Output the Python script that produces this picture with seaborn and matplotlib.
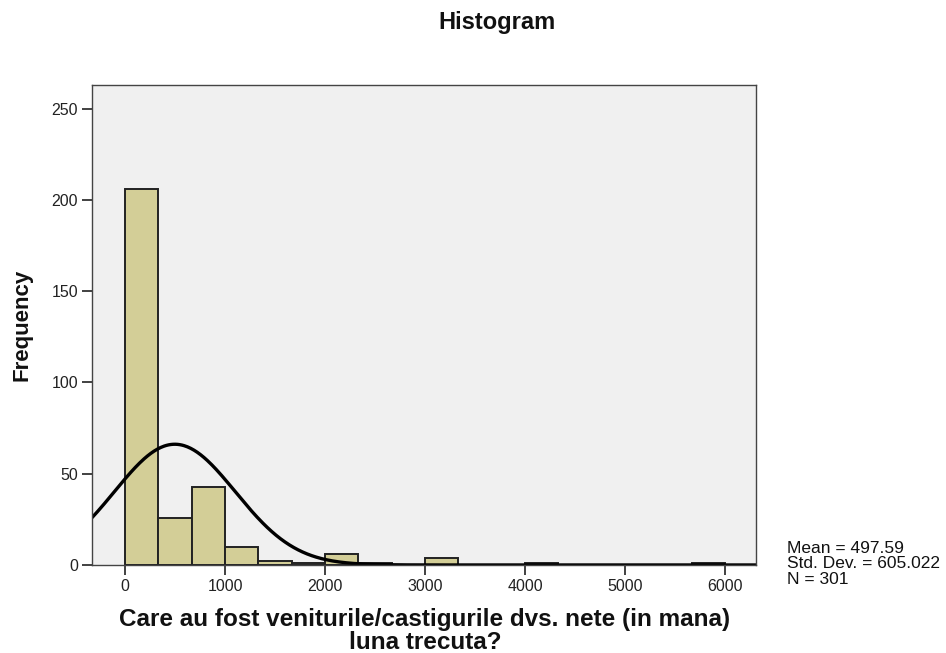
import numpy as np
import pandas as pd
import matplotlib
matplotlib.use("Agg")
import matplotlib.pyplot as plt
import seaborn as sns

# Income frequency table (bin width 333.33, from 0 to 6000)
bin_starts = [0, 333.33, 666.67, 1000, 1333.33, 1666.67, 2000, 2333.33, 2666.67,
              3000, 3333.33, 3666.67, 4000, 4333.33, 4666.67, 5000, 5333.33, 5666.67]
counts = [206, 26, 43, 10, 2, 1, 6, 1, 0, 4, 0, 0, 1, 0, 0, 0, 0, 1]
bin_width = 6000 / 18

mean_val = 497.59
std_val = 605.022
n_val = 301

x_ticks = [0, 1000, 2000, 3000, 4000, 5000, 6000]
y_ticks = [0, 50, 100, 150, 200, 250]

sns.set_theme(style="white")
plt.rcParams["font.family"] = ["Liberation Sans", "DejaVu Sans"]

fig = plt.figure(figsize=(9.46, 6.53), dpi=100)
ax = fig.add_axes([0.0973, 0.1348, 0.7019, 0.7350])
ax.set_facecolor("#F0F0F0")

df = pd.DataFrame({"start": bin_starts, "count": counts})
df["center"] = df["start"] + bin_width / 2

sns.histplot(data=df, x="center", weights="count", binwidth=bin_width,
             binrange=(0, 6000), ax=ax,
             color="#D3CE97", edgecolor="#222222", linewidth=1.4, alpha=1.0)

# Fitted normal curve scaled to counts
xs = np.linspace(-330, 6310, 600)
pdf = n_val * bin_width / (std_val * np.sqrt(2 * np.pi)) * np.exp(-0.5 * ((xs - mean_val) / std_val) ** 2)
sns.lineplot(x=xs, y=pdf, ax=ax, color="black", linewidth=2.4)

ax.set_xlim(-330, 6310)
ax.set_ylim(0, 263)
ax.set_xticks(x_ticks)
ax.set_yticks(y_ticks)
ax.set_xticklabels([str(t) for t in x_ticks], fontsize=11.5, color="#222222")
ax.set_yticklabels([str(t) for t in y_ticks], fontsize=11.5, color="#222222")
ax.tick_params(axis="both", direction="out", length=7, width=1.3, color="#333333",
               bottom=True, left=True, pad=3)
for s in ax.spines.values():
    s.set_color("#444444")
    s.set_linewidth(1.0)

ax.set_xlabel("")
ax.set_ylabel("")

fig.text(497 / 946, 1 - 22 / 653, "Histogram", ha="center", va="center",
         fontsize=17, fontweight="bold", color="#111111")
fig.text(22 / 946, 1 - 325 / 653, "Frequency", ha="center", va="center",
         rotation=90, fontsize=16, fontweight="bold", color="#111111")
fig.text(425 / 946, 1 - 631 / 653,
         "Care au fost veniturile/castigurile dvs. nete (in mana)\nluna trecuta?",
         ha="center", va="center", fontsize=17.5, fontweight="bold",
         color="#111111", linespacing=1.02)
fig.text(787 / 946, 1 - 564 / 653,
         f"Mean = {mean_val}\nStd. Dev. = {std_val}\nN = {n_val}",
         ha="left", va="center", fontsize=12.5, color="#111111", linespacing=1.08)

fig.savefig("out.png", dpi=100)
